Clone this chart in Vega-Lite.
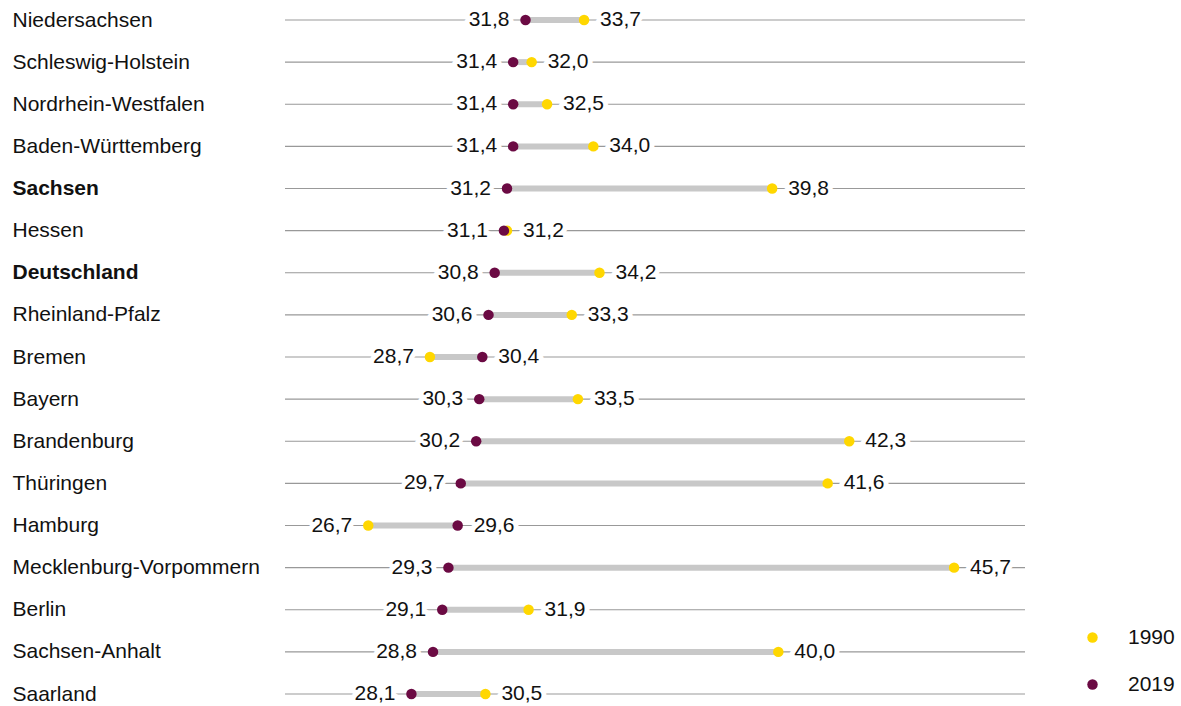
{
  "$schema": "https://vega.github.io/schema/vega-lite/v6.json",
  "width": 740,
  "height": 674,
  "autosize": "none",
  "padding": {"left": 285, "top": 20, "right": 156, "bottom": 12},
  "background": "white",
  "config": {
    "view": {"stroke": null},
    "font": "Liberation Sans",
    "locale": {"number": {"decimal": ",", "thousands": ".", "grouping": [3], "currency": ["", " €"]}}
  },
  "data": {
    "values": [
      {"state": "Niedersachsen", "year": "1990", "value": 33.7},
      {"state": "Niedersachsen", "year": "2019", "value": 31.8},
      {"state": "Schleswig-Holstein", "year": "1990", "value": 32.0},
      {"state": "Schleswig-Holstein", "year": "2019", "value": 31.4},
      {"state": "Nordrhein-Westfalen", "year": "1990", "value": 32.5},
      {"state": "Nordrhein-Westfalen", "year": "2019", "value": 31.4},
      {"state": "Baden-Württemberg", "year": "1990", "value": 34.0},
      {"state": "Baden-Württemberg", "year": "2019", "value": 31.4},
      {"state": "Sachsen", "year": "1990", "value": 39.8},
      {"state": "Sachsen", "year": "2019", "value": 31.2},
      {"state": "Hessen", "year": "1990", "value": 31.2},
      {"state": "Hessen", "year": "2019", "value": 31.1},
      {"state": "Deutschland", "year": "1990", "value": 34.2},
      {"state": "Deutschland", "year": "2019", "value": 30.8},
      {"state": "Rheinland-Pfalz", "year": "1990", "value": 33.3},
      {"state": "Rheinland-Pfalz", "year": "2019", "value": 30.6},
      {"state": "Bremen", "year": "1990", "value": 28.7},
      {"state": "Bremen", "year": "2019", "value": 30.4},
      {"state": "Bayern", "year": "1990", "value": 33.5},
      {"state": "Bayern", "year": "2019", "value": 30.3},
      {"state": "Brandenburg", "year": "1990", "value": 42.3},
      {"state": "Brandenburg", "year": "2019", "value": 30.2},
      {"state": "Thüringen", "year": "1990", "value": 41.6},
      {"state": "Thüringen", "year": "2019", "value": 29.7},
      {"state": "Hamburg", "year": "1990", "value": 26.7},
      {"state": "Hamburg", "year": "2019", "value": 29.6},
      {"state": "Mecklenburg-Vorpommern", "year": "1990", "value": 45.7},
      {"state": "Mecklenburg-Vorpommern", "year": "2019", "value": 29.3},
      {"state": "Berlin", "year": "1990", "value": 31.9},
      {"state": "Berlin", "year": "2019", "value": 29.1},
      {"state": "Sachsen-Anhalt", "year": "1990", "value": 40.0},
      {"state": "Sachsen-Anhalt", "year": "2019", "value": 28.8},
      {"state": "Saarland", "year": "1990", "value": 30.5},
      {"state": "Saarland", "year": "2019", "value": 28.1}
    ]
  },
  "transform": [
    {"joinaggregate": [{"op": "min", "field": "value", "as": "minv"}, {"op": "max", "field": "value", "as": "maxv"}], "groupby": ["state"]}
  ],
  "encoding": {
    "y": {
      "field": "state",
      "type": "nominal",
      "sort": ["Niedersachsen", "Schleswig-Holstein", "Nordrhein-Westfalen", "Baden-Württemberg", "Sachsen", "Hessen", "Deutschland", "Rheinland-Pfalz", "Bremen", "Bayern", "Brandenburg", "Thüringen", "Hamburg", "Mecklenburg-Vorpommern", "Berlin", "Sachsen-Anhalt", "Saarland"],
      "scale": {"type": "point", "padding": 0},
      "axis": {
        "title": null,
        "domain": false,
        "ticks": false,
        "labelAlign": "left",
        "labelPadding": 273,
        "labelLimit": 0,
        "labelFontSize": 21,
        "labelColor": "#111111",
        "labelFont": "Liberation Sans",
        "labelBaseline": "middle",
        "labelFontWeight": {"condition": {"test": "datum.value === 'Sachsen' || datum.value === 'Deutschland'", "value": "bold"}, "value": "normal"}
      }
    }
  },
  "layer": [
    {
      "mark": {"type": "rule", "color": "#999999", "strokeWidth": 1.2},
      "transform": [{"filter": "datum.year === '2019'"}],
      "encoding": {
        "x": {"datum": 24, "type": "quantitative", "scale": {"domain": [24, 48], "nice": false, "zero": false}, "axis": null},
        "x2": {"datum": 48}
      }
    },
    {
      "mark": {"type": "text", "align": "right", "baseline": "middle", "dx": -16, "fontSize": 21, "fill": "white", "stroke": "white", "strokeWidth": 10, "strokeJoin": "round"},
      "transform": [{"filter": "datum.value === datum.minv"}],
      "encoding": {
        "x": {"field": "value", "type": "quantitative"},
        "text": {"field": "value", "type": "quantitative", "format": ".1f"}
      }
    },
    {
      "mark": {"type": "text", "align": "left", "baseline": "middle", "dx": 16, "fontSize": 21, "fill": "white", "stroke": "white", "strokeWidth": 10, "strokeJoin": "round"},
      "transform": [{"filter": "datum.value === datum.maxv"}],
      "encoding": {
        "x": {"field": "value", "type": "quantitative"},
        "text": {"field": "value", "type": "quantitative", "format": ".1f"}
      }
    },
    {
      "mark": {"type": "text", "align": "right", "baseline": "middle", "dx": -16, "fontSize": 21, "color": "#111111"},
      "transform": [{"filter": "datum.value === datum.minv"}],
      "encoding": {
        "x": {"field": "value", "type": "quantitative"},
        "text": {"field": "value", "type": "quantitative", "format": ".1f"}
      }
    },
    {
      "mark": {"type": "text", "align": "left", "baseline": "middle", "dx": 16, "fontSize": 21, "color": "#111111"},
      "transform": [{"filter": "datum.value === datum.maxv"}],
      "encoding": {
        "x": {"field": "value", "type": "quantitative"},
        "text": {"field": "value", "type": "quantitative", "format": ".1f"}
      }
    },
    {
      "mark": {"type": "rule", "color": "#c8c8c8", "strokeWidth": 6},
      "transform": [{"filter": "datum.year === '2019'"}],
      "encoding": {
        "x": {"field": "minv", "type": "quantitative"},
        "x2": {"field": "maxv"}
      }
    },
    {
      "mark": {"type": "point", "filled": true, "opacity": 1, "size": 110, "shape": "circle"},
      "encoding": {
        "x": {"field": "value", "type": "quantitative"},
        "color": {
          "field": "year",
          "type": "nominal",
          "scale": {"domain": ["1990", "2019"], "range": ["#FFD700", "#6B0A43"]},
          "legend": {
            "title": null,
            "orient": "none",
            "legendX": 797,
            "legendY": 607,
            "padding": 0,
            "symbolSize": 110,
            "symbolType": "circle",
            "labelFontSize": 21,
            "labelFont": "Liberation Sans",
            "labelColor": "#111111",
            "labelOffset": 25,
            "rowPadding": 25
          }
        },
        "order": {"field": "year", "type": "nominal", "sort": "ascending"}
      }
    }
  ]
}
